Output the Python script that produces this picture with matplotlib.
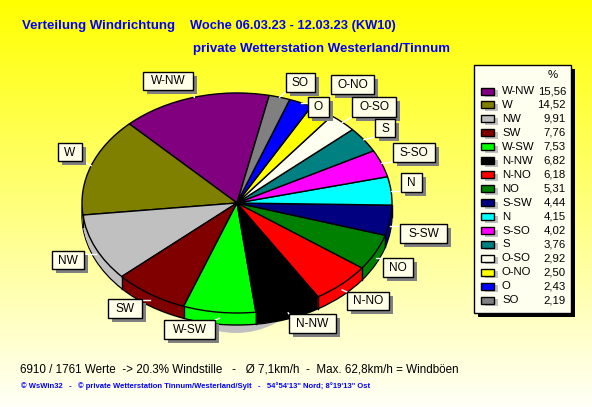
import numpy as np
import matplotlib
matplotlib.use('Agg')
import matplotlib.pyplot as plt
from matplotlib.patches import Rectangle, Ellipse

plt.rcParams['font.family'] = ['Liberation Sans', 'DejaVu Sans']

# Daten
richtung = ['W-NW', 'W', 'NW', 'SW', 'W-SW', 'N-NW', 'N-NO', 'NO',
            'S-SW', 'N', 'S-SO', 'S', 'O-SO', 'O-NO', 'O', 'SO']
anteil = [15.56, 14.52, 9.91, 7.76, 7.53, 6.82, 6.18, 5.31,
          4.44, 4.15, 4.02, 3.76, 2.92, 2.50, 2.43, 2.19]
farben = ['#800080', '#808000', '#C0C0C0', '#800000', '#00FF00', '#000000',
          '#FF0000', '#008000', '#000080', '#00FFFF', '#FF00FF', '#008080',
          '#FFFFF0', '#FFFF00', '#0000FF', '#808080']

# Beschriftungskaesten in Pixeln (x0, y0, x1, y1)
kaesten = {
    'W-NW': (143, 72, 193, 90), 'W': (58, 143, 82, 161),
    'NW': (52, 251, 84, 269), 'SW': (108, 299, 142, 318),
    'W-SW': (164, 320, 215, 339), 'N-NW': (289, 314, 336, 333),
    'N-NO': (347, 292, 389, 310), 'NO': (383, 258, 413, 277),
    'S-SW': (400, 224, 447, 243), 'N': (401, 173, 422, 192),
    'S-SO': (393, 143, 435, 162), 'S': (375, 119, 395, 137),
    'O-SO': (352, 97, 396, 117), 'O-NO': (331, 75, 374, 94),
    'O': (308, 97, 329, 117), 'SO': (286, 73, 315, 92),
}

BREITE, HOEHE = 592, 407
CX, CY, RX, RY = 237, 203, 155, 110
TIEFE = 12
START = 78
CREME = '#FFFFE8'

fig = plt.figure(figsize=(BREITE / 100, HOEHE / 100), dpi=100)

# Hintergrund: Verlauf gelb -> fast weiss
bg = fig.add_axes([0, 0, 1, 1], zorder=0)
verlauf = np.linspace(0, 0.97, 256).reshape(-1, 1)
bild = np.dstack([np.ones_like(verlauf), np.ones_like(verlauf), verlauf])
bg.imshow(bild, aspect='auto', extent=(0, BREITE, HOEHE, 0))
bg.set_xlim(0, BREITE)
bg.set_ylim(HOEHE, 0)
bg.axis('off')
# Schatten unter der Torte
bg.add_patch(Ellipse((236, 212.5), 200, 241, facecolor='#C0C0C0', edgecolor='none'))

# Torte in eigener Achse, die elliptisch gestreckt wird
rand = 3
x0, x1 = CX - RX - rand, CX + RX + rand
y0, y1 = CY - RY - rand, CY + RY + TIEFE + rand
pie_ax = fig.add_axes([x0 / BREITE, 1 - y1 / HOEHE, (x1 - x0) / BREITE, (y1 - y0) / HOEHE], zorder=1)
d_unten = TIEFE / RY

pie_ax.pie(anteil, colors=farben, startangle=START, counterclock=True, radius=1,
           center=(0, -d_unten), wedgeprops={'edgecolor': 'black', 'linewidth': 1.0})
for d in np.linspace(d_unten, 0, TIEFE + 1)[1:-1]:
    pie_ax.pie(anteil, colors=farben, startangle=START, counterclock=True, radius=1,
               center=(0, -d), wedgeprops={'edgecolor': 'none', 'linewidth': 0})

# senkrechte Kanten am Rand der unteren Haelfte
winkel = START + np.cumsum([0] + anteil) / sum(anteil) * 360
for w in winkel:
    xr, yr = np.cos(np.radians(w)), np.sin(np.radians(w))
    if yr < 0:
        pie_ax.plot([xr, xr], [yr, yr - d_unten], color='black', lw=1.0)

pie_ax.pie(anteil, colors=farben, startangle=START, counterclock=True, radius=1,
           center=(0, 0), wedgeprops={'edgecolor': 'black', 'linewidth': 1.0})
pie_ax.set_aspect('auto')
pie_ax.set_xlim(-1 - rand / RX, 1 + rand / RX)
pie_ax.set_ylim(-1 - d_unten - rand / RY, 1 + rand / RY)
pie_ax.axis('off')

# Ueberlagerung fuer Texte, Kaesten und Legende
ax = fig.add_axes([0, 0, 1, 1], zorder=2)
ax.patch.set_alpha(0)
ax.set_xlim(0, BREITE)
ax.set_ylim(HOEHE, 0)
ax.axis('off')

# Beschriftungen mit Fuehrungslinien
mitten = (winkel[:-1] + winkel[1:]) / 2
for name, w in zip(richtung, mitten):
    bx0, by0, bx1, by1 = kaesten[name]
    px = CX + RX * np.cos(np.radians(w))
    py = CY - RY * np.sin(np.radians(w))
    if np.sin(np.radians(w)) < 0:
        py += TIEFE * 0.5
    qx = np.clip(px, bx0, bx1)
    qy = np.clip(py, by0, by1)
    ax.plot([px, qx], [py, qy], color='white', lw=1, zorder=2)
    ax.add_patch(Rectangle((bx0 + 4, by0 + 4), bx1 - bx0, by1 - by0, facecolor='#808080', edgecolor='none', zorder=3))
    ax.add_patch(Rectangle((bx0, by0), bx1 - bx0, by1 - by0, facecolor=CREME, edgecolor='black', lw=1, zorder=4))
    ax.text((bx0 + bx1) / 2, (by0 + by1) / 2 + 0.5, name, ha='center', va='center', fontsize=8.6, color='black', zorder=5)

# Legende
ax.add_patch(Rectangle((478, 69), 97, 248, facecolor='black', edgecolor='none', zorder=1))
ax.add_patch(Rectangle((474, 65), 97, 248, facecolor='#FFFFF0', edgecolor='black', lw=1, zorder=2))
ax.text(553, 75, '%', ha='center', va='center', fontsize=8.2, zorder=3)
for i, (name, wert, farbe) in enumerate(zip(richtung, anteil, farben)):
    y = 91 + i * 13.95
    ax.add_patch(Rectangle((485, y - 1), 13, 7, facecolor='#C0C0C0', edgecolor='none', zorder=3))
    ax.add_patch(Rectangle((481, y - 3.5), 13, 7, facecolor=farbe, edgecolor='black', lw=1, zorder=4))
    ax.text(502, y, name, ha='left', va='center', fontsize=8.2, zorder=5)
    ax.text(566, y, f'{wert:.2f}'.replace('.', ','), ha='right', va='center', fontsize=8.2, zorder=5)

# Titel und Fusszeilen
ax.text(22, 26, 'Verteilung Windrichtung', ha='left', va='center',
        fontsize=9.55, fontweight='bold', color='#0000FF')
ax.text(190, 26, 'Woche 06.03.23 - 12.03.23 (KW10)', ha='left', va='center',
        fontsize=9.3, fontweight='bold', color='#0000FF')
ax.text(193, 49, 'private Wetterstation Westerland/Tinnum',
        ha='left', va='center', fontsize=9.55, fontweight='bold', color='#0000FF')
ax.text(20, 369, '6910 / 1761 Werte  -> 20.3% Windstille   -   Ø 7,1km/h  -  Max. 62,8km/h = Windböen',
        ha='left', va='center', fontsize=8.4, color='black')
ax.text(21, 386, '© WsWin32   -   © private Wetterstation Tinnum/Westerland/Sylt   -   54°54\'13" Nord; 8°19\'13" Ost',
        ha='left', va='center', fontsize=5.5, fontweight='bold', color='#0000FF')

fig.savefig('out.png', dpi=100)
